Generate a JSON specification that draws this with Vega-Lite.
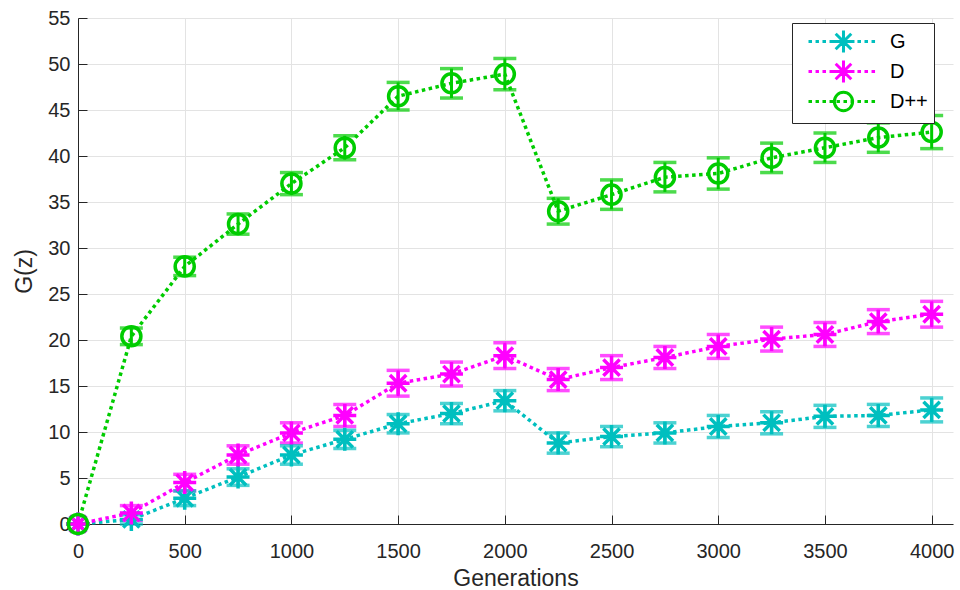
{
  "$schema": "https://vega.github.io/schema/vega-lite/v6.json",
  "autosize": {"type": "none"},
  "width": 875,
  "height": 506,
  "padding": {"left": 78, "top": 18, "right": 7, "bottom": 66},
  "background": "white",
  "config": {
    "view": {"stroke": null},
    "font": "Liberation Sans",
    "axis": {
      "domainColor": "#262626",
      "domainWidth": 1,
      "tickColor": "#262626",
      "tickWidth": 1,
      "tickSize": -9,
      "gridColor": "#e3e3e3",
      "gridWidth": 1,
      "labelColor": "#262626",
      "labelFont": "Liberation Sans",
      "labelFontSize": 20,
      "titleColor": "#262626",
      "titleFont": "Liberation Sans",
      "titleFontSize": 23,
      "titleFontWeight": "normal"
    }
  },
  "data": {
    "values": [
      {"gen": 0, "val": 0, "err": 0, "series": "G"},
      {"gen": 250, "val": 0.5, "err": 0.5, "series": "G"},
      {"gen": 500, "val": 2.8, "err": 0.8, "series": "G"},
      {"gen": 750, "val": 5.1, "err": 0.9, "series": "G"},
      {"gen": 1000, "val": 7.5, "err": 1.0, "series": "G"},
      {"gen": 1250, "val": 9.2, "err": 1.0, "series": "G"},
      {"gen": 1500, "val": 10.9, "err": 1.0, "series": "G"},
      {"gen": 1750, "val": 12.0, "err": 1.1, "series": "G"},
      {"gen": 2000, "val": 13.4, "err": 1.1, "series": "G"},
      {"gen": 2250, "val": 8.8, "err": 1.1, "series": "G"},
      {"gen": 2500, "val": 9.5, "err": 1.1, "series": "G"},
      {"gen": 2750, "val": 9.9, "err": 1.1, "series": "G"},
      {"gen": 3000, "val": 10.6, "err": 1.2, "series": "G"},
      {"gen": 3250, "val": 11.0, "err": 1.2, "series": "G"},
      {"gen": 3500, "val": 11.7, "err": 1.2, "series": "G"},
      {"gen": 3750, "val": 11.8, "err": 1.2, "series": "G"},
      {"gen": 4000, "val": 12.4, "err": 1.3, "series": "G"},
      {"gen": 0, "val": 0, "err": 0, "series": "D"},
      {"gen": 250, "val": 1.2, "err": 0.8, "series": "D"},
      {"gen": 500, "val": 4.5, "err": 0.9, "series": "D"},
      {"gen": 750, "val": 7.5, "err": 1.0, "series": "D"},
      {"gen": 1000, "val": 9.9, "err": 1.1, "series": "D"},
      {"gen": 1250, "val": 11.8, "err": 1.2, "series": "D"},
      {"gen": 1500, "val": 15.3, "err": 1.4, "series": "D"},
      {"gen": 1750, "val": 16.3, "err": 1.3, "series": "D"},
      {"gen": 2000, "val": 18.3, "err": 1.4, "series": "D"},
      {"gen": 2250, "val": 15.7, "err": 1.2, "series": "D"},
      {"gen": 2500, "val": 17.0, "err": 1.3, "series": "D"},
      {"gen": 2750, "val": 18.1, "err": 1.2, "series": "D"},
      {"gen": 3000, "val": 19.3, "err": 1.3, "series": "D"},
      {"gen": 3250, "val": 20.1, "err": 1.3, "series": "D"},
      {"gen": 3500, "val": 20.6, "err": 1.3, "series": "D"},
      {"gen": 3750, "val": 22.0, "err": 1.3, "series": "D"},
      {"gen": 4000, "val": 22.8, "err": 1.4, "series": "D"},
      {"gen": 0, "val": 0, "err": 0, "series": "D++"},
      {"gen": 250, "val": 20.4, "err": 0.9, "series": "D++"},
      {"gen": 500, "val": 28.0, "err": 1.0, "series": "D++"},
      {"gen": 750, "val": 32.6, "err": 1.1, "series": "D++"},
      {"gen": 1000, "val": 37.0, "err": 1.2, "series": "D++"},
      {"gen": 1250, "val": 40.9, "err": 1.3, "series": "D++"},
      {"gen": 1500, "val": 46.5, "err": 1.5, "series": "D++"},
      {"gen": 1750, "val": 47.9, "err": 1.6, "series": "D++"},
      {"gen": 2000, "val": 48.9, "err": 1.7, "series": "D++"},
      {"gen": 2250, "val": 34.0, "err": 1.4, "series": "D++"},
      {"gen": 2500, "val": 35.8, "err": 1.6, "series": "D++"},
      {"gen": 2750, "val": 37.7, "err": 1.6, "series": "D++"},
      {"gen": 3000, "val": 38.1, "err": 1.7, "series": "D++"},
      {"gen": 3250, "val": 39.8, "err": 1.6, "series": "D++"},
      {"gen": 3500, "val": 40.9, "err": 1.6, "series": "D++"},
      {"gen": 3750, "val": 42.0, "err": 1.6, "series": "D++"},
      {"gen": 4000, "val": 42.6, "err": 1.8, "series": "D++"}
    ]
  },
  "encoding": {
    "x": {
      "field": "gen",
      "type": "quantitative",
      "scale": {"domain": [0, 4100], "nice": false, "zero": false},
      "axis": {
        "title": "Generations",
        "values": [0, 500, 1000, 1500, 2000, 2500, 3000, 3500, 4000],
        "format": "d",
        "labelPadding": 26,
        "titleY": 54,
        "titleBaseline": "middle",
        "labelFlush": false
      }
    },
    "y": {
      "field": "val",
      "type": "quantitative",
      "scale": {"domain": [0, 55], "nice": false},
      "axis": {
        "title": "G(z)",
        "values": [0, 5, 10, 15, 20, 25, 30, 35, 40, 45, 50, 55],
        "labelPadding": 17,
        "titleX": -42,
        "labelFlush": false
      }
    }
  },
  "layer": [
    {
      "mark": {"type": "errorbar", "ticks": {"size": 23, "thickness": 3.5}, "thickness": 3},
      "encoding": {
        "yError": {"field": "err"},
        "color": {
          "field": "series",
          "type": "nominal",
          "scale": {"domain": ["G", "D", "D++"], "range": ["#00BFBF", "#FF00FF", "#00CC00"]},
          "legend": null
        }
      }
    },
    {
      "mark": {"type": "line", "strokeWidth": 3.5, "strokeDash": [3.5, 3.5], "strokeCap": "butt"},
      "encoding": {
        "color": {"field": "series", "type": "nominal", "legend": null}
      }
    },
    {
      "mark": {"type": "point", "filled": false, "strokeWidth": 3.5, "size": 529, "opacity": 1},
      "encoding": {
        "color": {"field": "series", "type": "nominal", "legend": null},
        "shape": {
          "field": "series",
          "type": "nominal",
          "scale": {
            "domain": ["G", "D", "D++"],
            "range": [
              "M0,-1L0,1M-1,0L1,0M-0.71,-0.71L0.71,0.71M-0.71,0.71L0.71,-0.71",
              "M0,-1L0,1M-1,0L1,0M-0.71,-0.71L0.71,0.71M-0.71,0.71L0.71,-0.71",
              "M0.83,0A0.83,0.83,0,1,1,-0.83,0A0.83,0.83,0,1,1,0.83,0Z"
            ]
          },
          "legend": null
        }
      }
    },
    {
      "mark": {"type": "point", "filled": false, "opacity": 0, "strokeWidth": 3},
      "encoding": {
        "stroke": {
          "field": "series",
          "type": "nominal",
          "scale": {"domain": ["G", "D", "D++"], "range": ["#00BFBF", "#FF00FF", "#00CC00"]},
          "legend": {
            "title": null,
            "orient": "none",
            "legendX": 714,
            "legendY": 5,
            "padding": 6,
            "strokeColor": "#262626",
            "fillColor": "white",
            "symbolSize": 484,
            "symbolStrokeWidth": 3,
            "symbolFillColor": "transparent",
            "symbolOffset": 9,
            "labelOffset": 58,
            "labelFont": "Liberation Sans",
            "labelFontSize": 20,
            "labelColor": "black",
            "rowPadding": -9.5
          }
        },
        "shape": {
          "field": "series",
          "type": "nominal",
          "scale": {
            "domain": ["G", "D", "D++"],
            "range": [
              "M-1,0L-0.68,0M-0.36,0L-0.05,0M0.27,0L0.59,0M0.91,0L1.23,0M1.55,0L1.86,0M2.18,0L2.5,0M2.82,0L3.14,0M3.45,0L3.77,0M4.09,0L4.41,0M4.73,0L5.05,0M2.18,-1L2.18,1M1.18,0L3.18,0M1.47,-0.71L2.89,0.71M1.47,0.71L2.89,-0.71",
              "M-1,0L-0.68,0M-0.36,0L-0.05,0M0.27,0L0.59,0M0.91,0L1.23,0M1.55,0L1.86,0M2.18,0L2.5,0M2.82,0L3.14,0M3.45,0L3.77,0M4.09,0L4.41,0M4.73,0L5.05,0M2.18,-1L2.18,1M1.18,0L3.18,0M1.47,-0.71L2.89,0.71M1.47,0.71L2.89,-0.71",
              "M-1,0L-0.68,0M-0.36,0L-0.05,0M0.27,0L0.59,0M0.91,0L1.23,0M1.55,0L1.86,0M2.18,0L2.5,0M2.82,0L3.14,0M3.45,0L3.77,0M4.09,0L4.41,0M4.73,0L5.05,0M3.01,0A0.83,0.83,0,1,1,1.35,0A0.83,0.83,0,1,1,3.01,0Z"
            ]
          },
          "legend": {
            "title": null,
            "orient": "none",
            "legendX": 714,
            "legendY": 5,
            "padding": 6,
            "strokeColor": "#262626",
            "fillColor": "white",
            "symbolSize": 484,
            "symbolStrokeWidth": 3,
            "symbolFillColor": "transparent",
            "symbolOffset": 9,
            "labelOffset": 58,
            "labelFont": "Liberation Sans",
            "labelFontSize": 20,
            "labelColor": "black",
            "rowPadding": -9.5
          }
        }
      }
    }
  ],
  "resolve": {
    "scale": {"shape": "independent", "stroke": "independent"},
    "legend": {"shape": "independent", "stroke": "independent"}
  }
}
